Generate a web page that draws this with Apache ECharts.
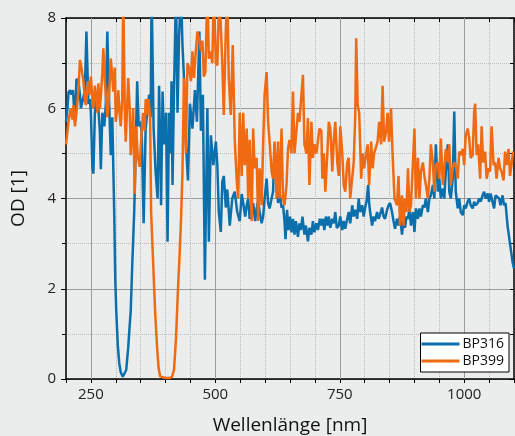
<!DOCTYPE html>
<html>
<head>
<meta charset="utf-8">
<script src="https://cdn.jsdelivr.net/npm/echarts@6.0.0/dist/echarts.min.js"></script>
<style>
  html, body { margin: 0; padding: 0; background: #ebecec; }
  #chart { width: 515px; height: 436px; }
</style>
</head>
<body>
<div id="chart"></div>
<script>
// BP316 transmission filter, optical density vs wavelength
var bp316Nm = [200,203,205,208,211,214,218,221,225,228,230,234,238,241,245,248,250,253,255,258,261,265,268,270,273,277,280,283,287,290,293,
  297,299,301,304,307,310,314,318,321,325,328,330,333,335,337,339,341,343,346,349,352,356,360,364,367,370,372,376,380,384,387,391,394,397,
  401,404,407,410,412,414,417,421,424,427,431,434,437,441,445,449,454,459,463,468,471,475,479,484,487,491,496,501,504,507,511,514,517,521,
  524,529,534,539,544,549,553,556,560,563,566,569,573,576,580,583,586,589,593,596,599,603,606,609,613,616,619,623,626,629,633,636,639,641,
  644,647,650,653,656,659,662,666,669,672,675,679,682,686,689,693,696,699,703,706,710,713,716,719,722,725,728,731,735,738,741,744,748,751,
  755,758,761,765,768,771,775,778,781,785,788,791,795,798,801,804,807,809,811,815,818,821,825,828,831,835,838,841,845,848,851,855,858,861,
  865,868,871,875,878,881,884,887,890,893,897,900,903,907,910,913,917,920,923,927,930,933,937,940,943,947,950,953,957,960,963,967,970,973,
  977,980,983,987,990,993,997,1000,1003,1007,1010,1013,1017,1020,1023,1027,1030,1033,1037,1040,1043,1047,1050,1053,1057,1060,1063,1067,
  1070,1073,1077,1080,1083,1087,1092,1097,1100];
var bp316Od = [5.7,6.0,6.35,6.4,6.3,6.4,5.7,6.65,6.6,6.3,6.0,6.2,6.4,7.7,6.1,6.2,5.9,4.7,4.55,5.9,6.3,6.0,5.5,4.65,5.9,5.6,6.1,7.7,6.0,4.96,5.8,
  3.6,2.2,1.5,0.75,0.35,0.15,0.05,0.07,0.2,0.7,1.2,1.5,2.5,3.1,3.7,4.6,5.6,6.6,5.6,5.7,5.5,3.45,5.55,5.55,6.3,5.8,8.6,5.56,4.6,4.0,6.5,3.85,6.37,5.2,
  5.9,3.04,5.9,5.0,6.6,4.3,6.4,8.6,5.9,7.55,8.6,7.4,6.67,5.2,4.4,6.1,5.55,6.4,5.7,7.7,5.5,6.3,2.2,6.0,3.04,5.4,4.74,5.26,4.74,3.7,3.26,4.37,4.5,3.8,
  4.2,3.4,4.0,4.15,3.7,3.5,4.1,3.9,3.6,3.85,4.0,3.55,3.75,3.9,3.5,3.78,3.95,3.7,3.45,3.6,4.0,4.44,3.9,3.78,4.0,4.15,5.2,4.44,3.9,4.15,3.8,3.85,3.5,3.1,
  3.75,3.3,3.6,3.25,3.55,3.2,3.5,3.15,3.45,3.3,3.6,3.2,3.4,3.05,3.35,3.2,3.5,3.25,3.45,3.3,3.55,3.4,3.55,3.3,3.6,3.4,3.6,3.35,3.55,3.45,3.7,3.35,3.4,3.6,
  3.3,3.5,3.33,3.55,3.7,3.45,3.85,3.6,3.75,3.55,4.0,3.7,3.85,3.6,3.8,3.95,4.3,3.9,3.7,3.4,3.6,3.5,3.7,3.55,3.65,3.8,3.6,3.55,3.75,3.85,3.9,3.7,3.5,3.33,
  3.55,3.4,3.6,3.2,3.5,3.35,3.6,3.55,3.78,3.4,3.7,3.26,3.78,3.55,3.78,3.6,3.85,3.8,4.0,3.7,4.0,4.07,4.3,4.0,5.2,4.15,4.44,4.0,4.22,4.0,4.6,5.2,4.15,4.0,
  4.44,5.93,4.15,3.78,4.0,3.7,3.63,3.85,3.78,3.93,4.0,3.85,3.78,3.93,3.85,3.9,4.0,3.93,4.07,4.15,4.0,4.11,3.93,4.11,4.07,3.78,4.07,4.07,
  4.0,3.85,4.07,3.85,3.9,3.4,3.0,2.6,2.45];

// BP399
var bp399Nm = [200,203,205,208,210,213,215,218,221,225,228,231,235,238,240,243,245,248,250,253,255,258,260,263,265,268,270,273,275,278,280,
  283,285,288,290,293,295,298,300,303,305,308,310,313,315,318,320,322,325,328,330,333,335,338,341,344,348,352,355,358,360,363,366,369,371,
  375,379,383,386,389,392,400,408,413,417,421,425,428,431,434,437,441,444,447,451,454,457,461,464,467,471,474,477,480,484,487,491,494,497,
  501,504,508,511,514,517,521,524,527,531,535,539,543,546,549,553,556,559,563,566,569,573,576,579,583,586,589,593,596,599,603,606,609,613,
  616,619,623,626,629,633,636,639,643,646,649,653,656,659,663,666,669,673,676,679,683,686,689,693,696,699,703,706,709,713,715,718,721,725,
  728,731,735,738,741,745,748,751,755,758,761,765,768,771,775,778,781,783,786,789,793,796,799,803,806,809,813,816,819,823,826,829,833,836,
  839,843,846,849,853,856,860,865,868,871,875,878,881,884,887,890,893,897,900,903,907,910,913,917,920,923,927,930,933,937,940,943,947,950,
  953,957,960,963,967,970,973,977,980,983,987,990,993,997,1000,1003,1007,1010,1013,1017,1020,1022,1025,1028,1032,1035,1038,1042,1045,
  1049,1052,1055,1059,1062,1065,1069,1072,1075,1079,1082,1085,1089,1092,1095,1098];
var bp399Od = [5.2,5.5,5.7,5.9,6.0,5.75,6.07,5.6,5.9,6.4,7.07,6.9,6.6,6.2,6.07,6.4,6.6,6.3,6.7,6.2,6.0,6.5,6.3,5.9,6.55,6.0,6.26,6.8,7.33,6.6,6.3,
  5.8,6.04,6.6,7.1,6.7,6.37,6.9,5.7,6.0,6.4,5.85,5.6,6.2,8.6,6.0,5.26,5.8,6.67,6.0,4.96,5.5,6.0,4.1,5.6,4.96,4.7,5.5,5.9,5.5,6.2,5.85,6.2,5.8,3.7,
  2.6,1.5,0.7,0.25,0.06,0.02,0.02,0.02,0.05,0.2,0.9,2.0,2.7,3.5,4.6,6.67,5.0,7.0,6.9,6.6,7.26,6.67,7.3,7.7,7.55,7.26,7.5,6.7,6.8,8.6,7.1,7.26,7.0,8.6,
  7.0,6.95,8.6,8.6,7.0,5.85,7.7,8.6,6.67,5.85,7.4,5.3,4.4,4.0,5.9,4.5,5.9,4.74,5.55,4.0,5.3,3.5,5.55,4.67,4.9,3.5,4.67,3.85,5.2,6.3,6.8,5.7,5.26,4.6,
  4.44,5.26,4.0,5.26,4.0,5.55,4.0,3.85,4.3,5.1,5.3,5.0,6.37,5.0,5.0,5.9,5.7,6.3,6.74,5.2,5.0,5.78,4.3,5.7,4.9,5.2,5.0,5.26,5.55,5.5,4.44,5.0,4.15,5.0,
  5.7,5.55,4.6,5.3,5.7,4.8,4.5,5.6,5.0,4.3,4.15,4.8,4.9,4.0,4.0,4.8,5.8,7.55,6.07,5.9,4.44,5.0,4.67,5.0,5.2,4.3,5.26,4.67,5.0,4.96,5.26,5.7,5.2,6.5,
  5.26,5.48,5.9,5.26,6.0,5.0,4.0,3.85,4.5,3.4,4.07,3.4,4.0,3.7,4.67,3.7,3.85,4.8,5.55,4.0,4.9,4.0,4.6,4.8,4.5,4.3,4.0,4.44,5.2,4.8,4.15,4.74,4.8,4.44,
  5.33,4.3,4.67,5.1,4.8,5.2,4.3,4.67,4.8,4.74,4.44,5.04,4.96,5.1,4.74,5.4,5.55,5.33,4.9,4.96,5.93,6.1,4.96,5.2,4.44,5.6,4.8,5.04,4.44,
  4.67,4.6,5.6,4.74,4.8,4.44,4.9,4.67,4.6,4.4,5.04,4.74,5.1,4.5,4.74,5.04];

var majorX = [250, 500, 750, 1000];

function pairs(xs, ys) {
    return xs.map(function (x, i) { return [x, ys[i]]; });
}

var font = "'Open Sans', 'Noto Sans', sans-serif";
var axisBlack = { show: true, onZero: false, lineStyle: { color: "#000", width: 1.5 } };

var chart = echarts.init(document.getElementById("chart"));
var option = {
    backgroundColor: "#ebecec",
    animation: false,
    textStyle: { fontFamily: font },
    grid: { left: 66, right: 1, top: 18, bottom: 57, outerBoundsMode: "none", containLabel: false },
    legend: {
        data: ["BP316", "BP399"],
        z: 50,
        orient: "vertical",
        right: 6,
        bottom: 64,
        backgroundColor: "#fff",
        borderColor: "#000",
        borderWidth: 1,
        borderRadius: 0,
        padding: [4, 5, 4, 1],
        itemWidth: 38,
        itemHeight: 3,
        itemGap: 3,
        icon: "rect",
        textStyle: { fontSize: 14, color: "#111", fontFamily: font, padding: [0, 0, 0, -2] }
    },
    xAxis: [
        {
            type: "value", min: 200, max: 1100, interval: 50,
            name: "Wellenlänge [nm]", nameLocation: "middle", nameGap: 37,
            nameTextStyle: { fontSize: 19, color: "#111", fontFamily: font },
            axisLine: axisBlack,
            axisTick: { show: true, length: 4, lineStyle: { color: "#000" } },
            axisLabel: {
                margin: 8, fontSize: 15, color: "#222",
                formatter: function (v) { return v % 250 === 0 ? String(v) : ""; }
            },
            splitLine: { show: true, lineStyle: { color: "#bcbcbc", type: "dotted" } }
        },
        {
            type: "value", position: "top", min: 200, max: 1100, interval: 50,
            axisLine: axisBlack,
            axisTick: { show: true, inside: true, length: 4, lineStyle: { color: "#000" } },
            axisLabel: { show: false },
            splitLine: { show: false }
        }
    ],
    yAxis: [
        {
            type: "value", min: 0, max: 8, interval: 2,
            name: "OD [1]", nameLocation: "middle", nameGap: 38,
            nameTextStyle: { fontSize: 19, color: "#111", fontFamily: font },
            axisLine: axisBlack,
            axisTick: { show: true, length: 5, lineStyle: { color: "#000" } },
            minorTick: { show: true, splitNumber: 2, length: 4, lineStyle: { color: "#000" } },
            axisLabel: { margin: 10, fontSize: 15, color: "#222" },
            splitLine: { show: true, lineStyle: { color: "#9b9b9b", width: 1 } },
            minorSplitLine: { show: true, lineStyle: { color: "#bcbcbc", type: "dotted" } }
        },
        {
            type: "value", position: "right", min: 0, max: 8, interval: 2,
            axisLine: axisBlack,
            axisTick: { show: true, inside: true, length: 4, lineStyle: { color: "#000" } },
            minorTick: { show: true, splitNumber: 2, length: 4, lineStyle: { color: "#000" } },
            axisLabel: { show: false },
            splitLine: { show: false }
        }
    ],
    series: [
        {
            name: "major grid",
            type: "line",
            z: 1,
            silent: true,
            data: [[200, -10]],
            lineStyle: { opacity: 0 },
            symbol: "none",
            markLine: {
                silent: true,
                symbol: "none",
                z: 1,
                label: { show: false },
                lineStyle: { color: "#9b9b9b", type: "solid", width: 1 },
                data: majorX.map(function (v) { return { xAxis: v }; })
            }
        },
        {
            name: "BP316",
            type: "line",
            symbol: "none",
            color: "#0b6fab",
            lineStyle: { width: 2.5, color: "#0b6fab" },
            data: pairs(bp316Nm, bp316Od)
        },
        {
            name: "BP399",
            type: "line",
            symbol: "none",
            color: "#ef6a10",
            lineStyle: { width: 2.5, color: "#ef6a10" },
            data: pairs(bp399Nm, bp399Od)
        }
    ]
};
chart.setOption(option);
window.addEventListener("resize", function () { chart.resize(); });
</script>
</body>
</html>
